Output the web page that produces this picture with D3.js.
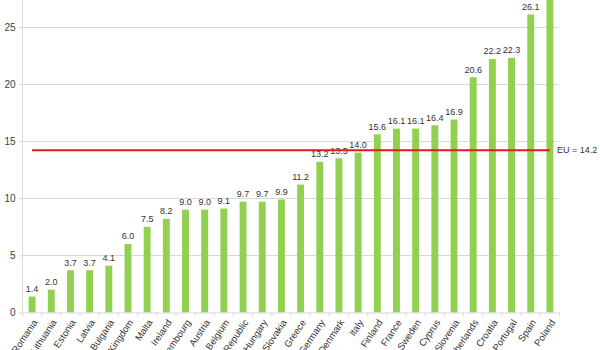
<!DOCTYPE html>
<html><head><meta charset="utf-8">
<script src="https://cdn.jsdelivr.net/npm/d3@7"></script>
<style>body{margin:0;background:#fff}svg{display:block;font-family:"Liberation Sans",Arial,sans-serif}</style>
</head><body><svg id="c" width="600" height="350"></svg>
<script>
const countries = ["Romania","Lithuania","Estonia","Latvia","Bulgaria","United Kingdom","Malta","Ireland","Luxembourg","Austria","Belgium","Czech Republic","Hungary","Slovakia","Greece","Germany","Denmark","Italy","Finland","France","Sweden","Cyprus","Slovenia","Netherlands","Croatia","Portugal","Spain","Poland"];
const values = [1.4,2.0,3.7,3.7,4.1,6.0,7.5,8.2,9.0,9.0,9.1,9.7,9.7,9.9,11.2,13.2,13.5,14.0,15.6,16.1,16.1,16.4,16.9,20.6,22.2,22.3,26.1,28.2];
const euAverage = 14.2;
const yTicks = [0,5,10,15,20,25];

const svg = d3.select("#c");
const x0 = 22.5, x1 = 559.5, yZero = 312.5, pxPerUnit = 11.42;
const x = d3.scaleBand().domain(countries).range([x0, x1]).paddingInner(0.64).paddingOuter(0.32);
const y = d3.scaleLinear().domain([0, 30]).range([yZero, yZero - 30*pxPerUnit]);

// gridlines
svg.append("g").selectAll("line").data(yTicks.filter(d=>d>0)).join("line")
  .attr("x1", x0).attr("x2", x1).attr("y1", d=>Math.round(y(d))+0.5).attr("y2", d=>Math.round(y(d))+0.5)
  .attr("stroke", "#d9d9d9").attr("stroke-width", 1);

// y axis
const yAxis = svg.append("g").attr("transform", `translate(${x0},0)`)
  .call(d3.axisLeft(y).tickValues(yTicks).tickSize(4).tickPadding(3).tickFormat(d3.format("d")));
yAxis.select(".domain").attr("stroke", "#d9d9d9").attr("d", `M-0,${yZero}V-5`);
yAxis.selectAll(".tick line").attr("stroke", "#d9d9d9");
yAxis.selectAll("text").attr("fill", "#404040").attr("font-size", 10).attr("font-family", "Liberation Sans, Arial, sans-serif");

// bars
svg.append("g").selectAll("rect").data(values).join("rect")
  .attr("x", (d,i)=>x(countries[i])).attr("width", x.bandwidth())
  .attr("y", d=>y(d)).attr("height", d=>y(0)-y(d)).attr("fill", "#92d050");

// value labels
svg.append("g").selectAll("text").data(values).join("text")
  .attr("x", (d,i)=>x(countries[i]) + x.bandwidth()/2).attr("y", d=>y(d)-4.5)
  .attr("text-anchor", "middle").attr("font-size", 9).attr("fill", "#333")
  .text(d=>d.toFixed(1));

// x axis
const xAxis = svg.append("g").attr("transform", `translate(0,${yZero})`);
xAxis.append("line").attr("x1", x0).attr("x2", x1).attr("y1", 0.5).attr("y2", 0.5).attr("stroke", "#d9d9d9");
const bounds = d3.range(countries.length+1).map(i => x0 + i*(x1-x0)/countries.length);
xAxis.selectAll("line.t").data(bounds).join("line").attr("class","t")
  .attr("x1", d=>d).attr("x2", d=>d).attr("y1", 0).attr("y2", 4).attr("stroke", "#d9d9d9");
xAxis.selectAll("text").data(countries).join("text")
  .attr("transform", d=>`translate(${x(d)+x.bandwidth()/2+3},8) rotate(-56)`)
  .attr("text-anchor", "end").attr("dy", "0.35em").attr("font-size", 9.5).attr("fill", "#333")
  .text(d=>d);

// EU line
const xFirst = x(countries[0]) + x.bandwidth()/2;
const xLast = x(countries[countries.length-1]) + x.bandwidth()/2;
svg.append("line").attr("x1", xFirst).attr("x2", xLast).attr("y1", y(euAverage)).attr("y2", y(euAverage))
  .attr("stroke", "#e31a1c").attr("stroke-width", 2);
svg.append("text").attr("x", xLast + 7).attr("y", y(euAverage)).attr("dy", "0.35em")
  .attr("font-size", 9).attr("fill", "#333").text(`EU = ${euAverage.toFixed(1)}`);
</script></body></html>
